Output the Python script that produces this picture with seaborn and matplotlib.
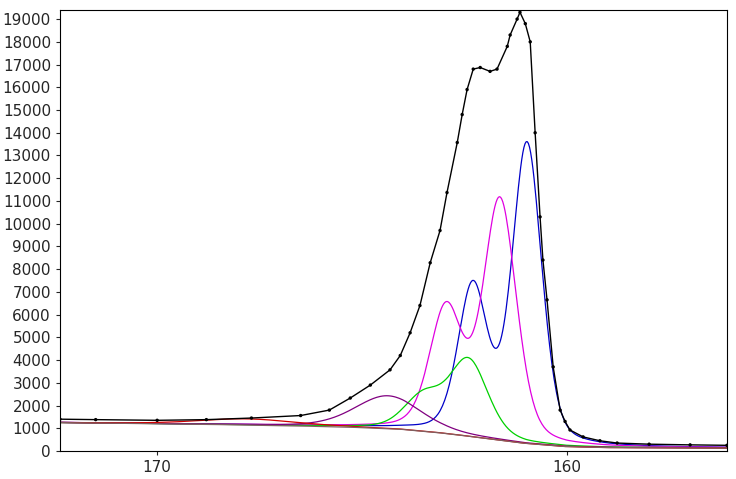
import matplotlib
matplotlib.use('Agg')
import matplotlib.pyplot as plt
import seaborn as sns
import numpy as np
import pandas as pd

# background
bg_energy = [172.4, 170.0, 168.0, 166.0, 165.0, 164.0, 163.0, 162.0, 161.0, 160.0, 159.0, 158.0, 156.1]
bg_counts = [1250, 1200, 1150, 1080, 1030, 950, 780, 560, 330, 190, 150, 140, 130]

env_energy = [172.37, 171.5, 170.0, 168.8, 167.7, 166.5, 165.8, 165.29, 164.8, 164.32, 164.07,
              163.83, 163.59, 163.34, 163.1, 162.93, 162.68, 162.56, 162.44, 162.29, 162.12,
              161.88, 161.71, 161.46, 161.39, 161.22, 161.15, 161.02, 160.90, 160.78, 160.66,
              160.59, 160.49, 160.34, 160.17, 160.05, 159.93, 159.61, 159.2, 158.78, 158.0,
              157.0, 156.1]
env_counts = [1400, 1380, 1350, 1380, 1450, 1560, 1800, 2330, 2900, 3570, 4200,
              5200, 6400, 8280, 9700, 11370, 13570, 14800, 15900, 16800, 16870,
              16700, 16800, 17800, 18300, 19000, 19300, 18800, 18000, 14000, 10300,
              8400, 6650, 3700, 1800, 1300, 925, 620, 450, 350, 300,
              270, 250]

# fitted components (doublets share a colour): centre (eV), height above background, FWHM (eV)
peak_centre = [160.98, 162.30, 161.64, 162.95, 162.40, 163.50, 164.37, 167.8]
peak_height = [13100, 6500, 10500, 5400, 3300, 1500, 1450, 270]
peak_fwhm = [0.85, 0.85, 0.95, 0.95, 1.1, 1.1, 1.9, 2.8]
peak_group = [0, 0, 1, 1, 2, 2, 3, 4]
group_color = ['#0000c8', '#e000e0', '#00d000', '#800080', '#d00000']

energy = np.linspace(172.4, 156.1, 600)
background = np.interp(energy, bg_energy[::-1], bg_counts[::-1])


def pseudo_voigt(x, c, h, w, eta=0.3):
    g = np.exp(-4 * np.log(2) * (x - c) ** 2 / w ** 2)
    l = 1 / (1 + 4 * (x - c) ** 2 / w ** 2)
    return h * ((1 - eta) * g + eta * l)


curves = [np.zeros_like(energy) for _ in group_color]
for c, h, w, g in zip(peak_centre, peak_height, peak_fwhm, peak_group):
    curves[g] += pseudo_voigt(energy, c, h, w)

sns.set_style('white')
fig = plt.figure(figsize=(7.36, 4.79), dpi=100)
ax = fig.add_axes([60 / 736, 28 / 479, 667 / 736, 441 / 479])

for comp, col in zip(curves, group_color):
    sns.lineplot(x=energy, y=background + comp, color=col, lw=0.9, ax=ax)
sns.lineplot(x=energy, y=background, color='#806060', lw=0.9, ax=ax)

env = pd.DataFrame({'e': env_energy, 'c': env_counts})
ax.plot(env['e'], env['c'], color='black', lw=1.0)
sns.scatterplot(data=env, x='e', y='c', s=6, color='black', edgecolor='none', ax=ax, zorder=5)
ax.set_xlabel('')
ax.set_ylabel('')

ax.set_xlim(172.37, 156.1)
ax.set_ylim(0, 19400)
ax.set_xticks([170, 160])
ax.set_yticks(range(0, 19001, 1000))
ax.tick_params(labelsize=11, length=3, direction='out', left=True, bottom=True)
for s in ax.spines.values():
    s.set_color('black')
    s.set_linewidth(0.8)

fig.savefig('out.png', dpi=100)
